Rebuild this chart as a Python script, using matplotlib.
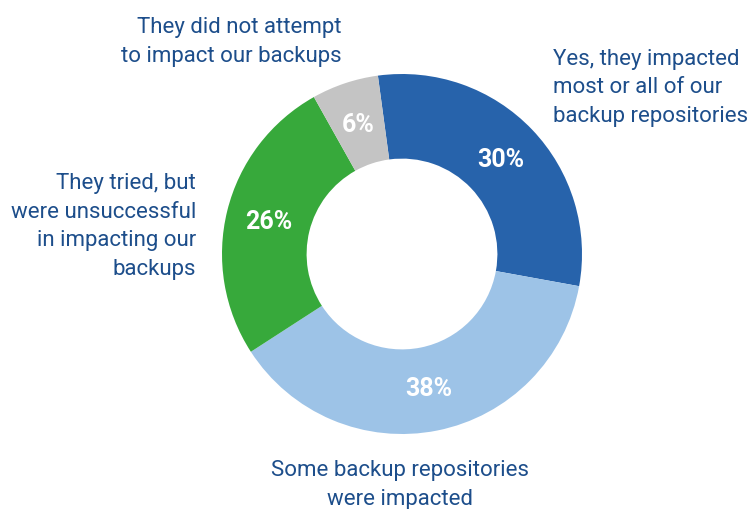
import matplotlib
matplotlib.use("Agg")
import matplotlib.pyplot as plt

categories = [
    "Yes, they impacted\nmost or all of our\nbackup repositories",
    "Some backup repositories\nwere impacted",
    "They tried, but\nwere unsuccessful\nin impacting our\nbackups",
    "They did not attempt\nto impact our backups",
]
values = [30, 38, 26, 6]
colors = ["#2763AB", "#9DC3E7", "#37A93B", "#C4C4C4"]
text_color = "#1D4E8B"

W, H = 753, 510
fig = plt.figure(figsize=(W / 100, H / 100), dpi=100)
ax = fig.add_axes([0, 0, 1, 1])

cx, cy, R = 402, H - 255, 180
wedges, texts, autotexts = ax.pie(
    values, colors=colors, startangle=97.7, counterclock=False,
    center=(cx, cy), radius=R, autopct="%d%%", pctdistance=0.76,
    wedgeprops=dict(width=R * 0.47, edgecolor="none"),
    textprops=dict(color="white", fontsize=18, fontweight="bold", family="Roboto"),
)
ax.set_xlim(0, W)
ax.set_ylim(0, H)
ax.set_aspect("equal")
ax.axis("off")

fs = 16
kw = dict(color=text_color, fontsize=fs, family="Roboto", linespacing=1.47)
ax.text(342, H - 62, categories[3], ha="right", va="baseline", **kw)
ax.text(553, H - 122, categories[0], ha="left", va="baseline", **kw)
ax.text(196, H - 275, categories[2], ha="right", va="baseline", **kw)
ax.text(400, H - 505, categories[1], ha="center", va="baseline", **kw)

fig.savefig("out.png", dpi=100)
